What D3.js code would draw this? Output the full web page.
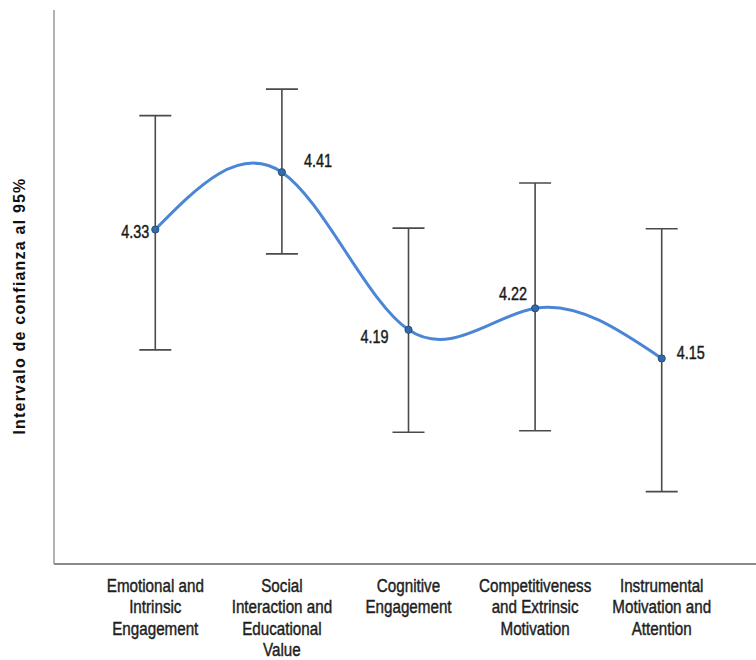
<!DOCTYPE html>
<html>
<head>
<meta charset="utf-8">
<script src="https://cdn.jsdelivr.net/npm/d3@7"></script>
<style>
  html, body { margin: 0; padding: 0; background: #fff; }
  svg { display: block; }
</style>
</head>
<body>
<script>
// Mean scores with 95% confidence intervals per motivation dimension
const categories = [
  ["Emotional and", "Intrinsic", "Engagement"],
  ["Social", "Interaction and", "Educational", "Value"],
  ["Cognitive", "Engagement"],
  ["Competitiveness", "and Extrinsic", "Motivation"],
  ["Instrumental", "Motivation and", "Attention"]
];
const means = [4.33, 4.41, 4.19, 4.22, 4.15];
const ciLower = [4.162, 4.296, 4.047, 4.049, 3.964];
const ciUpper = [4.489, 4.526, 4.332, 4.395, 4.331];
const labelSide = ["left", "upright", "downleft", "upleft", "right"];
const yTitle = "Intervalo de confianza al 95%";

const W = 756, H = 660;
const svg = d3.select("body").append("svg").attr("width", W).attr("height", H);

const plotLeft = 54, plotTop = 10, plotBottom = 564, plotRight = 763;
const keys = d3.range(categories.length);
const x = d3.scalePoint().domain(keys).range([plotLeft, plotRight]).padding(0.8);
const y = d3.scaleLinear().domain([3.863, 4.6365]).range([plotBottom, plotTop]);

const condensed = 0.8;
const font = "'Liberation Sans', Arial, sans-serif";

// Frame: left and bottom axis lines
svg.append("line").attr("x1", plotLeft).attr("x2", plotLeft).attr("y1", plotTop).attr("y2", plotBottom)
  .attr("stroke", "#9a9a9a").attr("stroke-width", 1.5);
svg.append("line").attr("x1", plotLeft).attr("x2", W).attr("y1", plotBottom).attr("y2", plotBottom)
  .attr("stroke", "#8a8a8a").attr("stroke-width", 1.8);

// Y axis title
svg.append("text")
  .attr("transform", `translate(25,306) rotate(-90)`)
  .attr("text-anchor", "middle")
  .attr("font-family", font).attr("font-weight", "bold").attr("font-size", 16)
  .attr("letter-spacing", 1.2)
  .attr("fill", "#111")
  .text(yTitle);

// Category labels (condensed, multi-line)
const catG = svg.append("g");
keys.forEach(i => {
  const g = catG.append("g")
    .attr("transform", `translate(${x(i)},${plotBottom}) scale(${condensed},1)`);
  const t = g.append("text")
    .attr("text-anchor", "middle")
    .attr("font-family", font).attr("font-size", 19)
    .attr("fill", "#1e1e1e").attr("stroke", "#1e1e1e").attr("stroke-width", 0.45);
  categories[i].forEach((line, k) => {
    t.append("tspan").attr("x", 0).attr("y", 28 + k * 21.5).text(line);
  });
});

// Error bars
const capHalf = 16;
const eb = svg.append("g").attr("stroke", "#4a4a4a").attr("stroke-width", 1.6);
keys.forEach(i => {
  eb.append("line").attr("x1", x(i)).attr("x2", x(i))
    .attr("y1", y(ciUpper[i])).attr("y2", y(ciLower[i]));
  eb.append("line").attr("x1", x(i) - capHalf).attr("x2", x(i) + capHalf)
    .attr("y1", y(ciUpper[i])).attr("y2", y(ciUpper[i]));
  eb.append("line").attr("x1", x(i) - capHalf).attr("x2", x(i) + capHalf)
    .attr("y1", y(ciLower[i])).attr("y2", y(ciLower[i]));
});

// Smoothed line through means
const line = d3.line().x(i => x(i)).y(i => y(means[i])).curve(d3.curveNatural);
svg.append("path").datum(keys).attr("d", line)
  .attr("fill", "none").attr("stroke", "#4b86d6").attr("stroke-width", 3);

// Mean markers
svg.append("g").selectAll("circle").data(keys).join("circle")
  .attr("cx", i => x(i)).attr("cy", i => y(means[i])).attr("r", 3.6)
  .attr("fill", "#3569a8").attr("stroke", "#23507f").attr("stroke-width", 1);

// Value labels
const offsets = {
  left:     { dx: -6,  dy: 8,  anchor: "end" },
  downleft: { dx: -20, dy: 13, anchor: "end" },
  right:    { dx: 15,  dy: 1,  anchor: "start" },
  upright:  { dx: 22,  dy: -5, anchor: "start" },
  upleft:   { dx: -8,  dy: -8, anchor: "end" }
};
keys.forEach(i => {
  const o = offsets[labelSide[i]];
  svg.append("g")
    .attr("transform", `translate(${x(i) + o.dx},${y(means[i]) + o.dy}) scale(${condensed},1)`)
    .append("text")
    .attr("text-anchor", o.anchor)
    .attr("font-family", font).attr("font-size", 18)
    .attr("fill", "#1a1a1a").attr("stroke", "#1a1a1a").attr("stroke-width", 0.45)
    .text(d3.format(".2f")(means[i]));
});
</script>
</body>
</html>
